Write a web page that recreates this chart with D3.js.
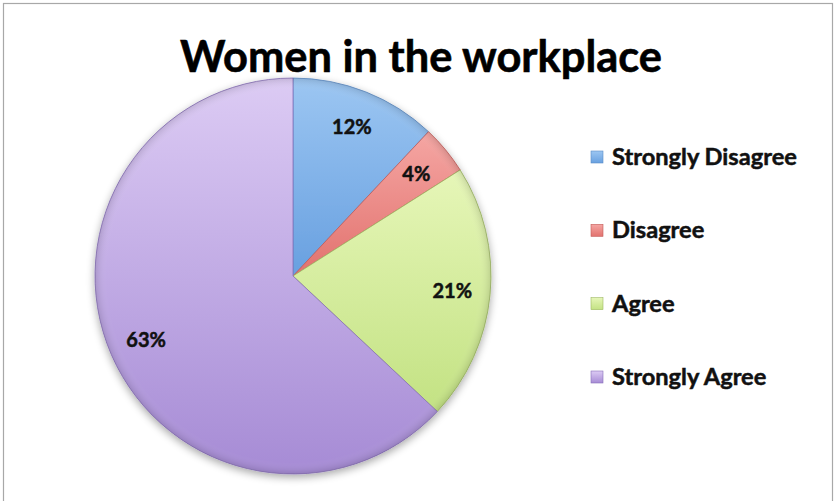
<!DOCTYPE html>
<html>
<head>
<meta charset="utf-8">
<script src="https://cdn.jsdelivr.net/npm/d3@7"></script>
<style>
  html, body { margin: 0; padding: 0; background: #fff; }
  svg { display: block; }
</style>
</head>
<body>
<svg id="chart" width="839" height="501"></svg>
<script>
// Survey responses
const categories = ["Strongly Disagree", "Disagree", "Agree", "Strongly Agree"];
const values = [12, 4, 21, 63];
const titleText = "Women in the workplace";

// Slice fills: light (top) to dark (bottom)
const lightColors = ["#9cc6f2", "#f5a6a3", "#e6f6b8", "#dccbf4"];
const darkColors  = ["#68a0e0", "#e2726e", "#c3e283", "#a68bd5"];
const edgeColors  = ["#5a8cc6", "#c45c58", "#9db862", "#8870b8"];

const W = 839, H = 501;
const cx = 293, cy = 276, R = 198;
const FONT = "Lato, 'Open Sans', sans-serif";

const svg = d3.select("#chart");
const defs = svg.append("defs");

// frame
svg.append("rect")
  .attr("x", 3.5).attr("y", 3.5)
  .attr("width", 829).attr("height", 520)
  .attr("fill", "#fff")
  .attr("stroke", "#a8a8a8").attr("stroke-width", 1.2);

// title
const title = svg.append("text")
  .attr("x", 421).attr("y", 72)
  .attr("text-anchor", "middle")
  .attr("font-family", FONT)
  .attr("font-weight", "bold")
  .attr("font-size", 41)
  .attr("fill", "#000")
  .attr("stroke", "#000").attr("stroke-width", 0.6)
  .text(titleText);
{
  const w = title.node().getComputedTextLength();
  const target = 482;
  title.attr("font-size", Math.min(44, 41 * target / w));
}

// per-slice gradients
categories.forEach((c, i) => {
  const g = defs.append("linearGradient")
    .attr("id", "grad" + i)
    .attr("x1", 0).attr("y1", 0).attr("x2", 0).attr("y2", 1);
  g.append("stop").attr("offset", "0%").attr("stop-color", lightColors[i]);
  g.append("stop").attr("offset", "100%").attr("stop-color", darkColors[i]);
});

// bevel shading towards rim
const rim = defs.append("radialGradient")
  .attr("id", "rim")
  .attr("gradientUnits", "userSpaceOnUse")
  .attr("cx", 0).attr("cy", 0).attr("r", R);
rim.append("stop").attr("offset", "0%").attr("stop-color", "#fff").attr("stop-opacity", 0);
rim.append("stop").attr("offset", "94%").attr("stop-color", "#fff").attr("stop-opacity", 0);
rim.append("stop").attr("offset", "100%").attr("stop-color", "#000").attr("stop-opacity", 0.12);

// soft shadow
const shadow = defs.append("filter").attr("id", "shadow")
  .attr("x", "-10%").attr("y", "-10%").attr("width", "120%").attr("height", "120%");
shadow.append("feGaussianBlur").attr("in", "SourceAlpha").attr("stdDeviation", 4).attr("result", "b");
shadow.append("feOffset").attr("in", "b").attr("dx", 0).attr("dy", 3).attr("result", "o");
shadow.append("feComponentTransfer").attr("in", "o").attr("result", "s")
  .append("feFuncA").attr("type", "linear").attr("slope", 0.35);
const merge = shadow.append("feMerge");
merge.append("feMergeNode").attr("in", "s");
merge.append("feMergeNode").attr("in", "SourceGraphic");

const data = categories.map((c, i) => ({ category: c, value: values[i], index: i }));
const pie = d3.pie().value(d => d.value).sort(null);
const arcs = pie(data);
const arc = d3.arc().innerRadius(0).outerRadius(R);
const labelArc = d3.arc().innerRadius(160).outerRadius(160);

const g = svg.append("g").attr("transform", `translate(${cx},${cy})`);

const slices = g.append("g").attr("filter", "url(#shadow)");
slices.selectAll("path.slice")
  .data(arcs)
  .join("path")
  .attr("class", "slice")
  .attr("d", arc)
  .attr("fill", d => `url(#grad${d.index})`)
  .attr("stroke", d => edgeColors[d.index])
  .attr("stroke-width", 0.8)
  .attr("stroke-linejoin", "round");

g.append("circle")
  .attr("r", R)
  .attr("fill", "url(#rim)")
  .attr("pointer-events", "none");

// value labels
g.selectAll("text.val")
  .data(arcs)
  .join("text")
  .attr("class", "val")
  .attr("transform", d => `translate(${labelArc.centroid(d)})`)
  .attr("text-anchor", "middle")
  .attr("dy", "0.36em")
  .attr("font-family", FONT)
  .attr("font-weight", "bold")
  .attr("font-size", 20)
  .attr("fill", "#111")
  .attr("stroke", "#111").attr("stroke-width", 0.5)
  .text(d => d.value + "%");

// legend
const legend = svg.append("g").attr("transform", "translate(591,0)");
const rowY = d3.scalePoint().domain(categories).range([165, 385]);
const rows = legend.selectAll("g.row")
  .data(data)
  .join("g")
  .attr("class", "row")
  .attr("transform", d => `translate(0,${rowY(d.category)})`);
rows.append("rect")
  .attr("x", 0).attr("y", -14)
  .attr("width", 12).attr("height", 12)
  .attr("fill", d => `url(#grad${d.index})`)
  .attr("stroke", d => edgeColors[d.index])
  .attr("stroke-width", 0.6);
const legendText = rows.append("text")
  .attr("x", 21).attr("y", 0)
  .attr("font-family", FONT)
  .attr("font-weight", "bold")
  .attr("font-size", 20)
  .attr("fill", "#111")
  .attr("stroke", "#111").attr("stroke-width", 0.5)
  .text(d => d.category);
{
  const n = legendText.nodes()[0];
  const w = n.getComputedTextLength();
  legendText.attr("font-size", 20 * 185 / w);
}
</script>
</body>
</html>
